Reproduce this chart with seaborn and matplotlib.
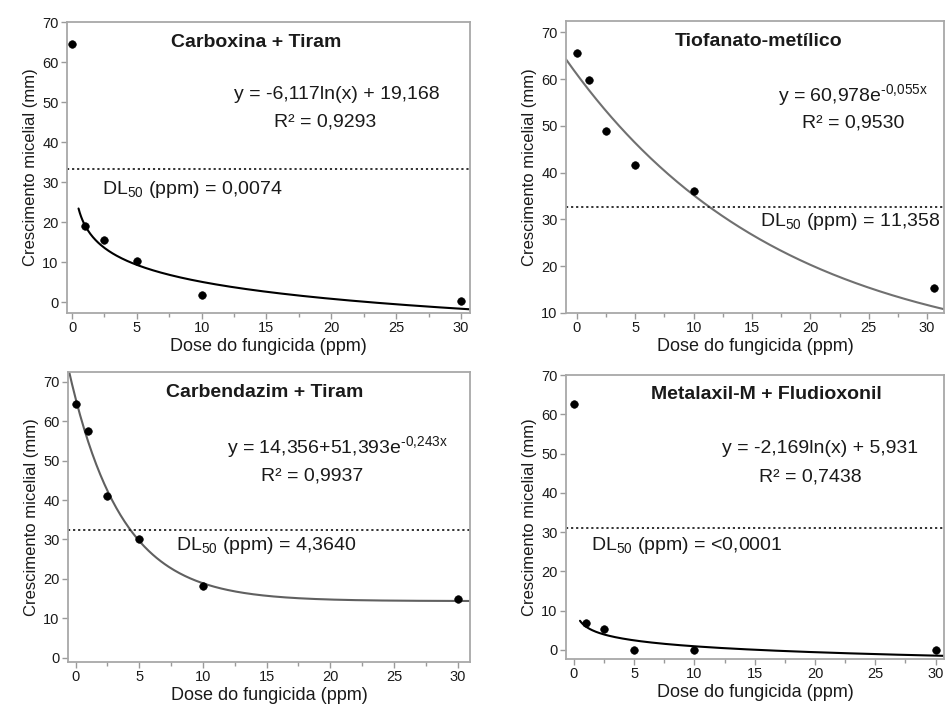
import numpy as np
import pandas as pd
import matplotlib
matplotlib.use("Agg")
import matplotlib.pyplot as plt
from matplotlib.ticker import MultipleLocator
import seaborn as sns

sns.set_theme(style="white")
plt.rcParams['font.family'] = ['Liberation Sans', 'DejaVu Sans']
plt.rcParams['mathtext.fontset'] = 'custom'
plt.rcParams['mathtext.rm'] = 'Liberation Sans'

# doses (ppm)
dose = [0, 1, 2.5, 5, 10, 30]
dose_tiof = [0, 1, 2.5, 5, 10, 30.6]

# mycelial growth (mm)
growth_carbox = [64.5, 19.0, 15.5, 10.3, 1.8, 0.3]
growth_tiof = [65.5, 59.7, 49.0, 41.7, 36.0, 15.3]
growth_carbend = [64.5, 57.5, 41.0, 30.0, 18.3, 15.0]
growth_metal = [62.5, 6.8, 5.3, 0.1, 0.1, 0.1]

# fitted coefficients shown in each panel
coef_carbox = [-6.117, 19.168]          # a*ln(x) + b
coef_tiof = [60.978, -0.055]            # a*exp(k*x)
coef_carbend = [14.356, 51.393, -0.243] # c + a*exp(k*x)
coef_metal = [-2.169, 5.931]            # a*ln(x) + b

# half of control growth (dotted line)
dl_line = [33.3, 32.6, 32.4, 31.1]

titles = ["Carboxina + Tiram", "Tiofanato-metílico",
          "Carbendazim + Tiram", "Metalaxil-M + Fludioxonil"]
equations = [r"y = -6,117ln(x) + 19,168",
             "y = 60,978e$^{\\mathregular{\u20100{,}055x}}$",
             "y = 14,356+51,393e$^{\\mathregular{\u20100{,}243x}}$",
             r"y = -2,169ln(x) + 5,931"]
r2_labels = ["R² = 0,9293", "R² = 0,9530", "R² = 0,9937", "R² = 0,7438"]
dl_labels = [r"DL$_{\mathregular{50}}$ (ppm) = 0,0074",
             r"DL$_{\mathregular{50}}$ (ppm) = 11,358",
             r"DL$_{\mathregular{50}}$ (ppm) = 4,3640",
             r"DL$_{\mathregular{50}}$ (ppm) = <0,0001"]

fig = plt.figure(figsize=(9.46, 7.11), dpi=100)
W, H = 946, 711


def add_ax(l, r, t, b):
    return fig.add_axes([l / W, 1 - b / H, (r - l) / W, (b - t) / H])


axes = [add_ax(67, 470, 22, 313), add_ax(566, 944, 21, 313),
        add_ax(68, 470, 372, 662), add_ax(566, 944, 375, 659)]
xlims = [(-0.39, 30.7), (-0.94, 31.45), (-0.6, 30.97), (-0.66, 30.7)]
ylims = [(-2.7, 70), (10, 72.4), (-1.1, 72.5), (-2.3, 70)]

curves = []
xs = np.linspace(0.5, 30.7, 300)
curves.append((xs, coef_carbox[0] * np.log(xs) + coef_carbox[1], "black"))
xs = np.linspace(-0.94, 31.45, 300)
curves.append((xs, coef_tiof[0] * np.exp(coef_tiof[1] * xs), "#707070"))
xs = np.linspace(-0.6, 30.97, 300)
curves.append((xs, coef_carbend[0] + coef_carbend[1] * np.exp(coef_carbend[2] * xs), "#606060"))
xs = np.linspace(0.5, 30.7, 300)
curves.append((xs, coef_metal[0] * np.log(xs) + coef_metal[1], "black"))

doses = [dose, dose_tiof, dose, dose]
growths = [growth_carbox, growth_tiof, growth_carbend, growth_metal]

# text positions in axes fraction
title_pos = [(0.47, 0.93), (0.51, 0.93), (0.49, 0.93), (0.53, 0.93)]
eq_pos = [(0.67, 0.75), (0.76, 0.745), (0.67, 0.74), (0.672, 0.74)]
r2_pos = [(0.64, 0.655), (0.76, 0.65), (0.607, 0.64), (0.646, 0.64)]
dl_pos = [(0.087, 0.425, "left"), (0.989, 0.315, "right"),
          (0.269, 0.40, "left"), (0.066, 0.40, "left")]

txt = "#1a1a1a"
for i, ax in enumerate(axes):
    df = pd.DataFrame({"dose": doses[i], "growth": growths[i]})
    cx, cy, col = curves[i]
    cdf = pd.DataFrame({"x": cx, "y": cy})
    sns.lineplot(data=cdf, x="x", y="y", ax=ax, color=col, lw=1.5)
    sns.scatterplot(data=df, x="dose", y="growth", ax=ax, color="black",
                    s=30, edgecolor="black", zorder=5)
    ax.axhline(dl_line[i], color="#222222", ls=(0, (1.2, 1.6)), lw=1.3)
    ax.set_xlim(xlims[i])
    ax.set_ylim(ylims[i])
    ax.xaxis.set_major_locator(MultipleLocator(5))
    ax.xaxis.set_minor_locator(MultipleLocator(2.5))
    ax.yaxis.set_major_locator(MultipleLocator(10))
    ax.tick_params(axis="both", which="major", direction="out", length=4,
                   width=1, color="#9a9a9a", labelsize=10.5, pad=2,
                   labelcolor=txt, bottom=True, left=True)
    ax.tick_params(axis="x", which="minor", direction="out", length=3,
                   width=1, color="#9a9a9a", bottom=True)
    for sp in ax.spines.values():
        sp.set_color("#a8a8a8")
        sp.set_linewidth(1.3)
    ax.set_xlabel("Dose do fungicida (ppm)", fontsize=13, labelpad=2, color=txt)
    ax.set_ylabel("Crescimento micelial (mm)", fontsize=12, labelpad=3, color=txt)

    ax.text(*title_pos[i], titles[i], transform=ax.transAxes, ha="center",
            va="center", fontsize=14, fontweight="bold", color=txt)
    ax.text(*eq_pos[i], equations[i], transform=ax.transAxes, ha="center",
            va="center", fontsize=14, color=txt)
    ax.text(*r2_pos[i], r2_labels[i], transform=ax.transAxes, ha="center",
            va="center", fontsize=14, color=txt)
    dx, dy, ha = dl_pos[i]
    ax.text(dx, dy, dl_labels[i], transform=ax.transAxes, ha=ha,
            va="center", fontsize=14, color=txt)

fig.savefig("out.png", dpi=100)
